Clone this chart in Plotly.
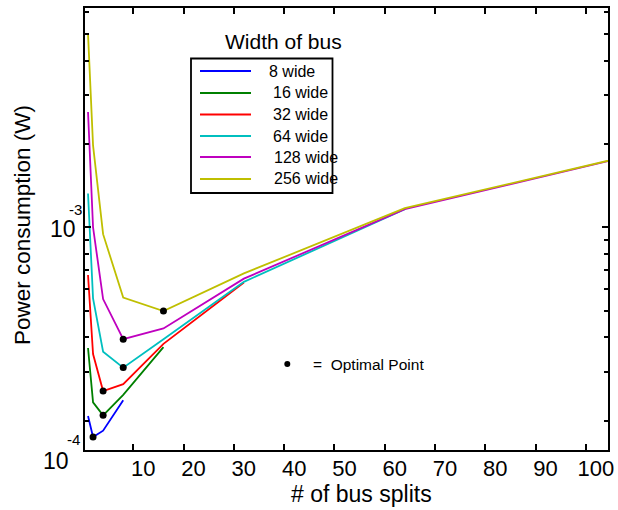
import math
import plotly.graph_objects as go

# ---------------- data ----------------
splits = [1, 2, 4, 8, 16, 32, 64, 128]
bus_labels = ["8 wide", "16 wide", "32 wide", "64 wide", "128 wide", "256 wide"]
p8 = [2.08e-4, 1.745e-4, 1.84e-4, 2.37e-4]
p16 = [3.66e-4, 2.33e-4, 2.09e-4, 2.48e-4, 3.69e-4]
p32 = [6.72e-4, 3.48e-4, 2.56e-4, 2.71e-4, 3.79e-4, 6.31e-4]
p64 = [1.324e-3, 5.53e-4, 3.55e-4, 3.11e-4, 3.94e-4, 6.35e-4, 1.162e-3]
p128 = [2.61e-3, 1.0e-3, 5.50e-4, 3.94e-4, 4.31e-4, 6.52e-4, 1.162e-3, 2.19e-3]
p256 = [5.0e-3, 1.977e-3, 9.44e-4, 5.57e-4, 4.98e-4, 6.81e-4, 1.172e-3, 2.19e-3]
series = [p8, p16, p32, p64, p128, p256]

x_tick_vals = [10, 20, 30, 40, 50, 60, 70, 80, 90, 100]
y_tick_vals = [10 ** -3.805, 1e-3]
y_tick_base = ["10", "10"]
y_tick_exp = ["-4", "-3"]
y_minor_vals = [2e-4, 3e-4, 4e-4, 5e-4, 6e-4, 7e-4, 8e-4, 9e-4,
                2e-3, 3e-3, 4e-3, 5e-3, 6e-3]

# ---------------- style ----------------
colors = ["#0000ff", "#008000", "#ff0000", "#00bfbf", "#bf00bf", "#bfbf00"]
FONT = "Arial, Liberation Sans, sans-serif"
W, H = 618, 510
ML, MR, MT, MB = 85, 10, 8, 60
PW, PH = W - ML - MR, H - MT - MB


def px(xp):
    return (xp - ML) / PW


def py(yp):
    return (H - MB - yp) / PH


fig = go.Figure()

for vals, col, name in zip(series, colors, bus_labels):
    fig.add_trace(go.Scatter(
        x=splits[:len(vals)], y=vals, mode="lines", name=name,
        line=dict(color=col, width=1.8), showlegend=False))

# optimal (minimum) points of each series
opt_x, opt_y = [], []
for vals in series:
    i = vals.index(min(vals))
    opt_x.append(splits[i])
    opt_y.append(vals[i])
fig.add_trace(go.Scatter(x=opt_x, y=opt_y, mode="markers", showlegend=False,
                         name="Optimal Point",
                         marker=dict(color="black", size=7)))

shapes = []
annotations = []

# manual legend (MATLAB style)
shapes.append(dict(type="rect", xref="paper", yref="paper",
                   x0=px(191), x1=px(332.5), y0=py(58.5), y1=py(193),
                   line=dict(color="black", width=1.8), fillcolor="white",
                   layer="above"))
row_y = [71, 93, 114.5, 136, 157, 179]
text_x = [267, 271, 271, 271, 272, 272]
for name, col, ry, tx in zip(bus_labels, colors, row_y, text_x):
    shapes.append(dict(type="line", xref="paper", yref="paper",
                       x0=px(200), x1=px(251), y0=py(ry), y1=py(ry),
                       line=dict(color=col, width=1.8), layer="above"))
    annotations.append(dict(xref="paper", yref="paper", x=px(tx), y=py(ry),
                            text=name, showarrow=False, xanchor="left",
                            yanchor="middle",
                            font=dict(family=FONT, size=16, color="black")))
annotations.append(dict(xref="paper", yref="paper", x=px(283), y=py(42),
                        text="Width of bus", showarrow=False, xanchor="center",
                        yanchor="middle",
                        font=dict(family=FONT, size=21, color="black")))

# optimal point key
shapes.append(dict(type="circle", xref="paper", yref="paper",
                   x0=px(284.3), x1=px(290.3), y0=py(361), y1=py(367),
                   line=dict(color="black", width=0), fillcolor="black"))
annotations.append(dict(xref="paper", yref="paper", x=px(311), y=py(364),
                        text="=  Optimal Point", showarrow=False, xanchor="left",
                        yanchor="middle",
                        font=dict(family=FONT, size=15.5, color="black")))

# MATLAB-style y tick labels: base "10" with exponent to the upper right
base_pos = [(71, -11), (78, -2)]   # (right edge px, vertical shift px)
exp_pos = [(82, 11), (84, 18)]
for v, b, e, (bx, bdy), (ex, edy) in zip(y_tick_vals, y_tick_base, y_tick_exp,
                                         base_pos, exp_pos):
    annotations.append(dict(xref="paper", yref="y", x=px(bx), y=math.log10(v),
                            text=b, showarrow=False, xanchor="right",
                            yanchor="middle", yshift=bdy,
                            font=dict(family=FONT, size=23, color="black")))
    annotations.append(dict(xref="paper", yref="y", x=px(ex), y=math.log10(v),
                            text=e, showarrow=False, xanchor="right",
                            yanchor="middle", yshift=edy,
                            font=dict(family=FONT, size=15, color="black")))

# axis titles (MATLAB export positions)
annotations.append(dict(xref="paper", yref="paper", x=px(361), y=py(494),
                        text="# of bus splits", showarrow=False,
                        xanchor="center", yanchor="middle",
                        font=dict(family=FONT, size=23, color="black")))
annotations.append(dict(xref="paper", yref="paper", x=px(22), y=py(225),
                        text="Power consumption (W)", showarrow=False,
                        textangle=-90, xanchor="center", yanchor="middle",
                        font=dict(family=FONT, size=22.5, color="black")))

fig.update_layout(
    width=W, height=H,
    margin=dict(l=ML, r=MR, t=MT, b=MB, pad=0, autoexpand=False),
    plot_bgcolor="white", paper_bgcolor="white",
    font=dict(family=FONT, color="black"),
    shapes=shapes, annotations=annotations,
    showlegend=False,
)
fig.update_xaxes(
    range=[0.4, 104.4], showgrid=False, zeroline=False, automargin=False,
    showline=True, linecolor="black", linewidth=2.2, mirror="ticks",
    ticks="inside", ticklen=6, tickwidth=1.5, tickcolor="black",
    tickvals=x_tick_vals, tickfont=dict(size=22, family=FONT),
    ticklabelshift=10, ticklabelstandoff=-3,
)
fig.update_yaxes(
    type="log", range=[-3.805, -2.2076], showgrid=False, zeroline=False,
    automargin=False,
    showline=True, linecolor="black", linewidth=2.2, mirror="ticks",
    ticks="inside", ticklen=6, tickwidth=1.5, tickcolor="black",
    tickvals=y_tick_vals, showticklabels=False,
    minor=dict(tickvals=y_minor_vals, ticks="inside", ticklen=4,
               tickwidth=1.5, tickcolor="black", showgrid=False),
)

fig.write_html("out.html")
